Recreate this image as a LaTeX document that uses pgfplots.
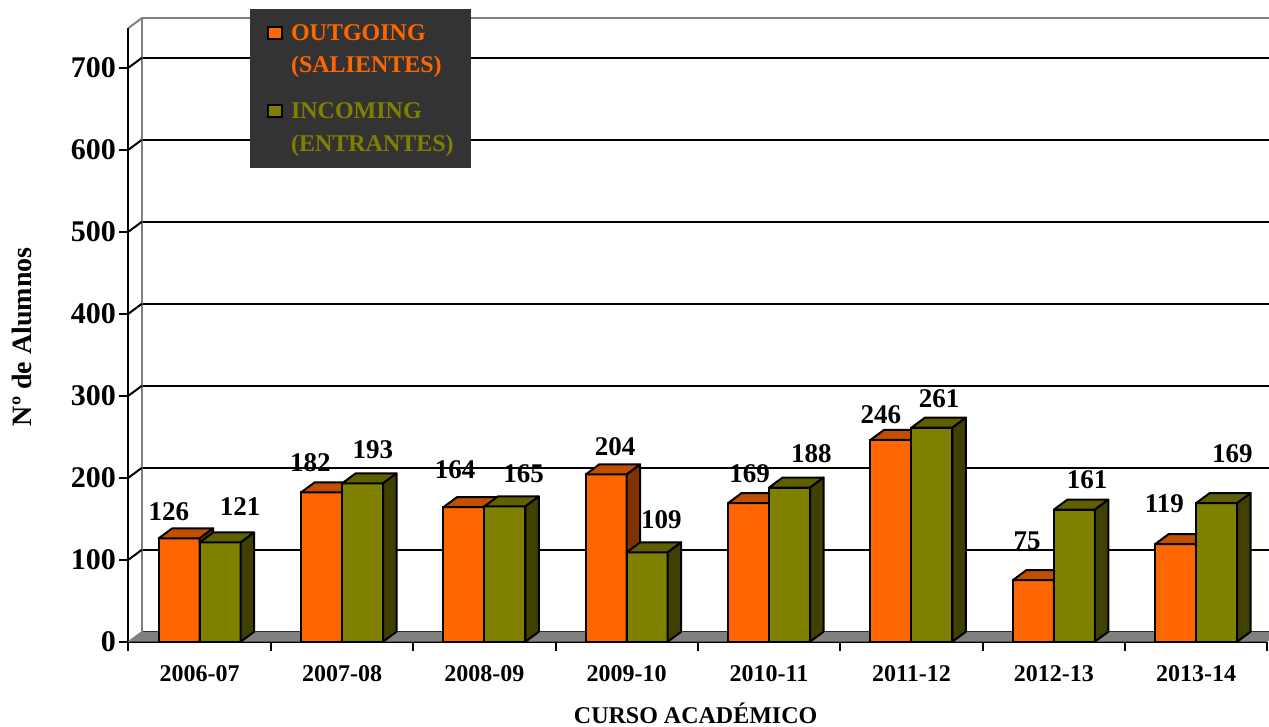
\documentclass[border=0pt]{standalone}
\usepackage{fontspec}
\setmainfont{Liberation Serif}
\usepackage{pgfplots}
\pgfplotsset{compat=1.18}
\usepackage{pgfplotstable}

\definecolor{orng}{HTML}{FF6600}
\definecolor{orngtop}{HTML}{C24E00}
\definecolor{orngside}{HTML}{803300}
\definecolor{olv}{HTML}{808000}
\definecolor{olvtop}{HTML}{606000}
\definecolor{olvside}{HTML}{404000}
\definecolor{legbg}{HTML}{333333}
\definecolor{wallgray}{HTML}{808080}

\pgfdeclareplotmark{nothing}{}

\pgfplotstableread{
x out inc
0 126 121
1 182 193
2 164 165
3 204 109
4 169 188
5 246 261
6 75 161
7 119 169
}\datatable

\pgfplotstableread{
x y v
-0.217 158.5 126
0.778 217.9 182
1.794 209.4 164
2.919 237.8 204
3.864 204.5 169
4.785 277.3 246
5.812 122.9 75
6.777 167.9 119
}\labout

\pgfplotstableread{
x y v
0.284 164.3 121
1.216 234.6 193
2.276 204.5 165
3.243 149.3 109
4.297 229.7 188
5.195 296.8 261
6.235 197.2 161
7.255 229.7 169
}\labinc

\begin{document}
\begin{tikzpicture}
\path[use as bounding box] (0pt,0pt) rectangle (1269pt,-727pt);
\begin{axis}[
  at={(128.5pt,-641.7pt)}, anchor=south west,
  x=142.35pt, y=0.82pt,
  xmin=-0.5, xmax=7.5, ymin=0, ymax=748.4,
  clip=false,
  axis x line*=bottom, axis y line*=left,
  axis line style={-, black, line width=2pt},
  tick align=outside,
  major tick length=9pt,
  tick style={black, line width=2pt},
  xtick={-0.5,0.5,...,7.5},
  x tick label as interval,
  xticklabels={2006-07,2007-08,2008-09,2009-10,2010-11,2011-12,2012-13,2013-14},
  ytick={0,100,...,700},
  ymajorgrids,
  major grid style={black, line width=2pt, xshift=13.5pt, yshift=10pt},
  /pgf/number format/assume math mode=true,
  yticklabel style={font=\bfseries\fontsize{30}{36}\selectfont},
  xticklabel style={font=\bfseries\fontsize{24}{28}\selectfont, yshift=-11pt},
  xlabel={CURSO ACADÉMICO},
  ylabel={Nº de Alumnos},
  xlabel style={at={(axis description cs:0.498,-0.1162)}, anchor=center, font=\bfseries\fontsize{24}{28}\selectfont},
  ylabel style={at={(axis description cs:-0.094,0.497)}, anchor=center, font=\bfseries\fontsize{28}{32}\selectfont},
  legend style={at={(axis description cs:0.1061,1.031)}, anchor=north west,
    fill=legbg, draw=none, inner xsep=17pt, inner ysep=0pt,
    row sep=0pt, column sep=8.5pt,
    nodes={inner sep=0pt},
    font=\bfseries\fontsize{24}{32}\selectfont},
  legend cell align=left,
]
% floor and back wall
\fill[wallgray] (axis cs:-0.5,0) -- (axis cs:7.5,0) -- ++(13.5pt,10pt) -- ([xshift=13.5pt,yshift=10pt]axis cs:-0.5,0) -- cycle;
\draw[wallgray, line width=2pt] ([xshift=13.5pt,yshift=10pt]axis cs:-0.5,0) -- ([xshift=13.5pt,yshift=10pt]axis cs:-0.5,748.4) -- ++(1200pt,0pt);
\draw[wallgray, line width=2pt] (axis cs:-0.5,748.4) -- ++(13.5pt,10pt);
\draw[wallgray, line width=1.4pt] (axis cs:-0.5,0) -- ++(13.5pt,10pt);
\pgfplotsinvokeforeach{100,200,300,400,500,600,700}{
  \draw[black, line width=2pt] (axis cs:-0.5,#1) -- ++(13.5pt,10pt);
}

% OUTGOING bars
\addplot[ybar, bar width=41pt, bar shift=-20.5pt, fill=orng, draw=black, line width=2pt,
  legend image code/.code={\path[draw=none, fill=none] (0pt,-16pt) rectangle (14pt,24pt); \draw[fill=orng, draw=black, line width=2pt] (0pt,-6pt) rectangle (14pt,6pt);}]
  table[x=x, y=out] {\datatable};
\addlegendentry{\color{orng}OUTGOING}
\addlegendimage{legend image code/.code={\path[draw=none, fill=none] (0pt,-30pt) rectangle (14pt,16pt);}}
\addlegendentry{\color{orng}(SALIENTES)}
\addplot[forget plot, scatter, only marks, mark=nothing,
  visualization depends on={\thisrow{out} \as \barval},
  scatter/@pre marker code/.code={%
    \filldraw[fill=orngtop, draw=black, line width=2pt, line join=round]
      (-41pt,0pt) -- (0pt,0pt) -- (13.5pt,10pt) -- (-27.5pt,10pt) -- cycle;
    \filldraw[fill=orngside, draw=black, line width=2pt, line join=round]
      (0pt,0pt) -- (13.5pt,10pt) -- ([xshift=13.5pt,yshift=10pt]axis direction cs:0,-\barval) -- (axis direction cs:0,-\barval) -- cycle;
  },
  scatter/@post marker code/.code={}]
  table[x=x, y=out] {\datatable};

% INCOMING bars
\addplot[ybar, bar width=41pt, bar shift=20.5pt, fill=olv, draw=black, line width=2pt,
  legend image code/.code={\path[draw=none, fill=none] (0pt,-17pt) rectangle (14pt,16pt); \draw[fill=olv, draw=black, line width=2pt] (0pt,-6pt) rectangle (14pt,6pt);}]
  table[x=x, y=inc] {\datatable};
\addlegendentry{\color{olv}INCOMING}
\addlegendimage{legend image code/.code={\path[draw=none, fill=none] (0pt,-23.7pt) rectangle (14pt,16pt);}}
\addlegendentry{\color{olv}(ENTRANTES)}
\addplot[forget plot, scatter, only marks, mark=nothing,
  visualization depends on={\thisrow{inc} \as \barval},
  scatter/@pre marker code/.code={%
    \filldraw[fill=olv, draw=black, line width=2pt, line join=round]
      (0pt,0pt) -- (41pt,0pt) -- ([xshift=41pt]axis direction cs:0,-\barval) -- (axis direction cs:0,-\barval) -- cycle;
    \filldraw[fill=olvtop, draw=black, line width=2pt, line join=round]
      (0pt,0pt) -- (41pt,0pt) -- (54.5pt,10pt) -- (13.5pt,10pt) -- cycle;
    \filldraw[fill=olvside, draw=black, line width=2pt, line join=round]
      (41pt,0pt) -- (54.5pt,10pt) -- ([xshift=54.5pt,yshift=10pt]axis direction cs:0,-\barval) -- ([xshift=41pt]axis direction cs:0,-\barval) -- cycle;
  },
  scatter/@post marker code/.code={}]
  table[x=x, y=inc] {\datatable};

% data labels
\addplot[forget plot, only marks, mark=nothing, point meta=explicit symbolic,
  nodes near coords, every node near coord/.append style={anchor=center, inner sep=0pt, black, font=\bfseries\fontsize{27}{30}\selectfont}]
  table[x=x, y=y, meta=v] {\labout};
\addplot[forget plot, only marks, mark=nothing, point meta=explicit symbolic,
  nodes near coords, every node near coord/.append style={anchor=center, inner sep=0pt, black, font=\bfseries\fontsize{27}{30}\selectfont}]
  table[x=x, y=y, meta=v] {\labinc};
\end{axis}
\end{tikzpicture}
\end{document}
